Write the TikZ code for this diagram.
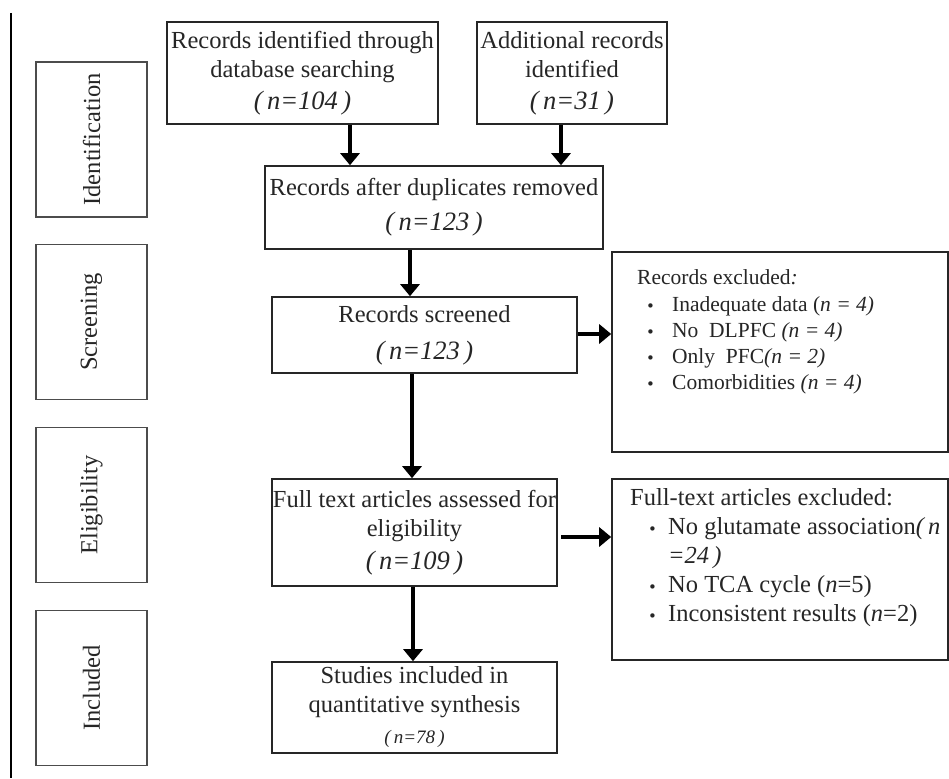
\documentclass[tikz,border=0pt]{standalone}
\usepackage{fontspec}
\setmainfont{Liberation Serif}
\newfontfamily\bulfont{DejaVu Sans}
\usetikzlibrary{arrows.meta}
\newcommand{\mybul}[1]{\makebox[#1][l]{\raisebox{-0.5pt}{\bulfont\fontsize{15}{15}\selectfont •}}}
\newcommand{\nval}[1]{{\fontsize{26.5}{30}\selectfont\itshape (\,n=#1\,)}}
\begin{document}
\begin{tikzpicture}[x=1pt,y=-1pt,
  box/.style={draw=black!85, line width=1.6pt, inner sep=0pt, align=center,
    font=\fontsize{24.5}{29}\selectfont, text=black!85},
  stage/.style={draw=black!70, line width=1.2pt, inner sep=0pt, rotate=90,
    minimum width=155pt, minimum height=111pt, font=\fontsize{24.5}{29}\selectfont, text=black!85},
  exbox/.style={draw=black!85, line width=1.6pt, inner sep=0pt},
  small/.style={inner sep=0pt, anchor=base west, font=\fontsize{21.5}{25}\selectfont, text=black!85},
  big/.style={inner sep=0pt, anchor=base west, font=\fontsize{24.5}{29}\selectfont, text=black!85},
  arr/.style={line width=4.5pt, -{Triangle[width=19pt,length=12pt]}}
]
\useasboundingbox (0,0) rectangle (949,778);
\fill[white] (0,0) rectangle (949,778);

% left rule
\coordinate (L1) at (11,13);
\coordinate (L2) at (11,778);
\draw[line width=2pt] (L1) -- (L2);

% stage boxes
\node[stage] (s1) at (91.5,139.5) {Identification};
\node[stage] (s2) at (91.5,322) {Screening};
\node[stage] (s3) at (91.5,505) {Eligibility};
\node[stage] (s4) at (91.5,688) {Included};

% main boxes
\node[box, minimum width=271pt, minimum height=102pt] (b1) at (302.5,73)
  {Records identified through\\database searching\\[3pt]\nval{104}};
\node[box, minimum width=190pt, minimum height=102pt] (b2) at (572,73)
  {Additional records\\identified\\[3pt]\nval{31}};
\node[box, minimum width=338pt, minimum height=83pt] (b3) at (434,207.5)
  {Records after duplicates removed\\[6pt]\nval{123}};
\node[box, minimum width=305pt, minimum height=76pt] (b4) at (424.5,335)
  {Records screened\\[8pt]\nval{123}};
\node[box, minimum width=285pt, minimum height=107pt] (b5) at (414.5,532.5)
  {Full text articles assessed for\\eligibility\\[4pt]\nval{109}};
\node[box, minimum width=285pt, minimum height=91pt] (b6) at (414.5,707.5)
  {Studies included in\\quantitative synthesis\\[2pt]{\fontsize{19}{23}\selectfont\itshape (\,n=78\,)}};

% exclusion boxes
\node[exbox, minimum width=336pt, minimum height=200pt] (e1) at (780,352) {};
\node[exbox, minimum width=336pt, minimum height=181pt] (e2) at (780,569.5) {};

% texts of exclusion box 1
\node[small] (e1t0) at (637,284) {Records excluded\textit{:}};
\node[small] (e1t1) at (646,311) {\mybul{26pt}Inadequate data (\textit{n = 4)}};
\node[small] (e1t2) at (646,337) {\mybul{26pt}No\ \ DLPFC \textit{(n = 4)}};
\node[small] (e1t3) at (646,363) {\mybul{26pt}Only\ \ PFC\textit{(n = 2)}};
\node[small] (e1t4) at (646,389) {\mybul{26pt}Comorbidities \textit{(n = 4)}};

% texts of exclusion box 2
\node[big] (e2t0) at (630,505) {Full-text articles excluded:};
\node[big] (e2t1) at (648,534) {\mybul{20pt}No glutamate association\textit{(\,n}};
\node[big] (e2t2) at (668,563) {\textit{=24\,)}};
\node[big] (e2t3) at (648,592) {\mybul{20pt}No TCA cycle (\textit{n}=5)};
\node[big] (e2t4) at (648,621) {\mybul{20pt}Inconsistent results (\textit{n}=2)};

% arrow positions
\coordinate (c1) at (350,0);
\coordinate (c2) at (561,0);
\coordinate (c3) at (410,0);
\coordinate (c4) at (412,0);
\coordinate (c5) at (413,0);
\coordinate (r1) at (0,334);
\coordinate (r2) at (0,537);
\coordinate (g2) at (561,0);

\draw[arr] (b1.south -| c1) -- (b3.north -| c1);
\draw[arr] (b2.south -| c2) -- (b3.north -| c2);
\draw[arr] (b3.south -| c3) -- (b4.north -| c3);
\draw[arr] (b4.east |- r1) -- (e1.west |- r1);
\draw[arr] (b4.south -| c4) -- (b5.north -| c4);
\draw[arr] (g2 |- r2) -- (e2.west |- r2);
\draw[arr] (b5.south -| c5) -- (b6.north -| c5);
\end{tikzpicture}
\end{document}
